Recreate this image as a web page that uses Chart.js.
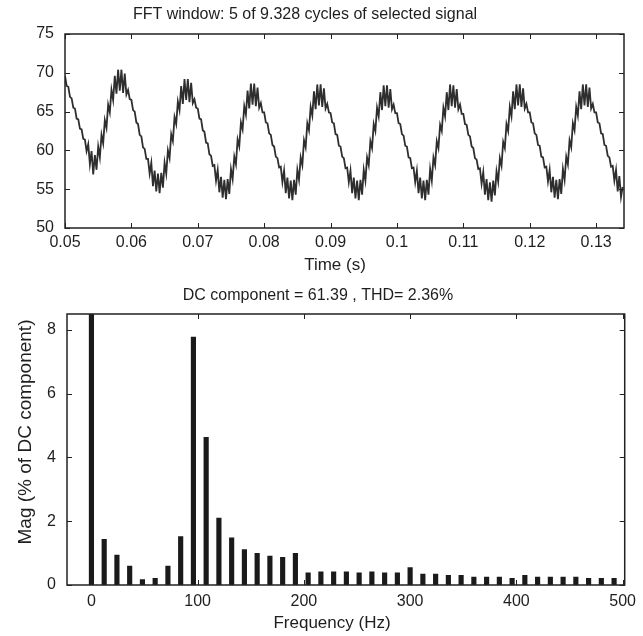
<!DOCTYPE html>
<html>
<head>
<meta charset="utf-8">
<title>FFT Analyse</title>
<script src="https://cdn.jsdelivr.net/npm/chart.js@4.4.1/dist/chart.umd.min.js"></script>
<style>
  html, body { margin: 0; padding: 0; background: #fff; }
  #page { position: relative; width: 643px; height: 636px; }
  canvas { position: absolute; left: 0; }
  #signalCanvas { top: 0; }
  #spectrumCanvas { top: 280px; }
</style>
</head>
<body>
<div id="page">
  <canvas id="signalCanvas" width="643" height="280"></canvas>
  <canvas id="spectrumCanvas" width="643" height="356"></canvas>
</div>
<script>
// --- Daten: Zeitsignal (Abtastschritt 0.25 ms ab t = 0.05 s) ---
const signalStart = 0.05;
const signalStep = 0.00025;
const signalValues = [
  69.6, 68.3, 68.2, 66.9, 66.7, 65.5, 65.4, 64.1, 64.0, 62.8, 62.7, 61.5, 61.4, 59.9, 60.8, 58.2, 59.9, 56.9,
  59.4, 57.5, 60.5, 59.1, 62.0, 60.9, 63.9, 62.9, 65.9, 64.9, 67.8, 66.5, 69.6, 67.3, 70.4, 67.7,
  70.4, 67.4, 69.9, 67.2, 67.8, 66.6, 66.5, 65.2, 65.0, 63.6, 63.4, 62.0, 61.8, 60.4, 60.2, 58.9, 58.9, 57.0, 58.4, 55.4, 57.4, 54.7, 57.0, 54.5,
  57.1, 55.2, 58.4, 57.0, 60.0, 59.0, 62.1, 61.2, 64.3, 63.4, 66.3, 65.2, 68.3, 66.0, 69.2, 66.5,
  69.2, 66.2, 68.7, 66.1, 66.6, 65.5, 65.4, 64.1, 64.0, 62.6, 62.4, 61.0, 60.9, 59.5, 59.3, 58.0, 58.1, 56.1, 57.5, 54.6, 56.6, 53.9, 56.2, 53.7,
  56.3, 54.4, 57.6, 56.3, 59.2, 58.2, 61.4, 60.5, 63.6, 62.7, 65.7, 64.6, 67.7, 65.4, 68.6, 65.9,
  68.6, 65.7, 68.1, 65.5, 66.1, 64.9, 64.9, 63.6, 63.5, 62.2, 62.0, 60.7, 60.5, 59.2, 59.0, 57.8, 57.9, 55.9, 57.4, 54.5, 56.5, 53.8, 56.1, 53.6,
  56.2, 54.3, 57.5, 56.2, 59.1, 58.1, 61.3, 60.4, 63.5, 62.6, 65.6, 64.5, 67.6, 65.3, 68.5, 65.8,
  68.5, 65.6, 68.0, 65.4, 66.0, 64.9, 64.8, 63.6, 63.5, 62.1, 62.0, 60.6, 60.5, 59.2, 59.0, 57.7, 57.8, 55.9, 57.4, 54.5, 56.5, 53.8, 56.1, 53.6,
  56.2, 54.3, 57.5, 56.1, 59.1, 58.1, 61.2, 60.3, 63.4, 62.5, 65.5, 64.4, 67.5, 65.2, 68.4, 65.7,
  68.4, 65.5, 67.9, 65.3, 65.9, 64.8, 64.8, 63.5, 63.4, 62.1, 61.9, 60.6, 60.5, 59.1, 59.0, 57.7, 57.8, 55.9, 57.4, 54.5, 56.5, 53.8, 56.1, 53.6,
  56.2, 54.3, 57.6, 56.1, 59.1, 58.1, 61.2, 60.3, 63.3, 62.5, 65.5, 64.4, 67.5, 65.2, 68.5, 65.7,
  68.4, 65.5, 67.9, 65.3, 65.9, 64.7, 64.7, 63.4, 63.3, 62.0, 61.8, 60.5, 60.3, 59.0, 58.8, 57.6, 57.7, 55.7, 57.2, 54.3, 56.3, 53.6, 55.9, 53.4,
  56.1, 54.2, 57.3, 56.0, 59.0, 58.0, 61.1, 60.3, 63.4, 62.5, 65.6, 64.4, 67.6, 65.3, 68.5, 65.8,
  68.5, 65.6, 68.0, 65.4, 66.0, 64.9, 64.9, 63.6, 63.5, 62.2, 62.0, 60.7, 60.6, 59.2, 59.1, 57.8, 57.9, 56.0, 57.5, 54.6, 56.6, 53.9, 56.2, 53.7,
  56.3, 54.4, 57.6, 56.2, 59.2, 58.2, 61.3, 60.4, 63.5, 62.6, 65.6, 64.5, 67.6, 65.3, 68.5, 65.8,
  68.5, 65.6, 68.1, 65.4, 66.0, 64.9, 64.9, 63.6, 63.5, 62.2, 62.1, 60.7, 60.6, 59.3, 59.1, 57.9, 58.0, 56.1, 57.5, 54.7, 56.7, 54.0, 55.3
];
const timeTicks = [0.05, 0.06, 0.07, 0.08, 0.09, 0.1, 0.11, 0.12, 0.13];
const levelTicks = [50, 55, 60, 65, 70, 75];

// --- Daten: Spektrum (Bins im 12-Hz-Raster, DC = 100 %) ---
const freqBins = [0, 12, 24, 36, 48, 60, 72, 84, 96, 108, 120, 132, 144, 156, 168, 180, 192,
  204, 216, 228, 240, 252, 264, 276, 288, 300, 312, 324, 336, 348, 360, 372, 384, 396,
  408, 420, 432, 444, 456, 468, 480, 492];
const magValues = [100, 1.43, 0.94, 0.59, 0.17, 0.21, 0.59, 1.52, 7.78, 4.63, 2.10, 1.48, 1.11, 0.99, 0.91, 0.87, 0.99,
  0.38, 0.41, 0.41, 0.41, 0.38, 0.41, 0.38, 0.38, 0.55, 0.34, 0.34, 0.30, 0.30, 0.25, 0.25, 0.25, 0.21,
  0.30, 0.25, 0.25, 0.25, 0.25, 0.21, 0.21, 0.21];
const freqTicks = [0, 100, 200, 300, 400, 500];
const magTicks = [0, 2, 4, 6, 8];

// --- Gemeinsame Einstellungen ---
const fontFamily = "'Liberation Sans', Arial, Helvetica, sans-serif";
const textColor = '#1e1e1e';
const tickFont = { family: fontFamily, size: 16 };

// Rahmen + nach innen zeigende Ticks auf allen vier Seiten (MATLAB-Stil)
const axisFrame = {
  id: 'axisFrame',
  afterDatasetsDraw(chart) {
    const { ctx, chartArea: a, scales: { x, y } } = chart;
    ctx.save();
    ctx.strokeStyle = '#222';
    ctx.lineWidth = 1.5;
    ctx.strokeRect(a.left, a.top, a.right - a.left, a.bottom - a.top);
    ctx.lineWidth = 1;
    ctx.beginPath();
    x.ticks.forEach(t => {
      const px = Math.round(x.getPixelForValue(t.value)) + 0.5;
      ctx.moveTo(px, a.bottom); ctx.lineTo(px, a.bottom - 5);
      ctx.moveTo(px, a.top); ctx.lineTo(px, a.top + 5);
    });
    y.ticks.forEach(t => {
      const py = Math.round(y.getPixelForValue(t.value)) + 0.5;
      ctx.moveTo(a.left, py); ctx.lineTo(a.left + 5, py);
      ctx.moveTo(a.right, py); ctx.lineTo(a.right - 5, py);
    });
    ctx.stroke();
    ctx.restore();
  }
};

// Titel und Achsenbeschriftungen an festen Positionen
const captions = {
  id: 'captions',
  afterDraw(chart, args, opts) {
    const ctx = chart.ctx;
    (opts.items || []).forEach(item => {
      ctx.save();
      ctx.font = item.size + 'px ' + fontFamily;
      ctx.fillStyle = textColor;
      ctx.textAlign = 'center';
      ctx.textBaseline = 'middle';
      ctx.translate(item.x, item.y);
      if (item.rotate) ctx.rotate(item.rotate);
      ctx.fillText(item.text, 0, 0);
      ctx.restore();
    });
  }
};

function fixedTicks(values) {
  return scale => { scale.ticks = values.map(v => ({ value: v })); };
}

// --- Oberes Diagramm: Zeitsignal ---
const signalPoints = signalValues.map((v, i) => ({ x: signalStart + i * signalStep, y: v }));

new Chart(document.getElementById('signalCanvas'), {
  type: 'line',
  data: {
    datasets: [{
      data: signalPoints,
      borderColor: '#2e2e2e',
      borderWidth: 1.8,
      pointRadius: 0,
      tension: 0,
      fill: false
    }]
  },
  options: {
    responsive: false,
    animation: false,
    layout: { padding: { top: 34, right: 19, left: 0, bottom: 0 } },
    plugins: {
      legend: { display: false },
      tooltip: { enabled: false },
      captions: {
        items: [
          { text: 'FFT window: 5 of 9.328 cycles of selected signal', x: 305, y: 15, size: 16 },
          { text: 'Time (s)', x: 335, y: 265, size: 17 }
        ]
      }
    },
    scales: {
      x: {
        type: 'linear',
        min: 0.05,
        max: 0.1342,
        grid: { display: false, drawTicks: false },
        border: { display: false },
        afterBuildTicks: fixedTicks(timeTicks),
        afterFit: s => { s.height = 52; },
        ticks: {
          font: tickFont, color: textColor, padding: 5, maxRotation: 0,
          callback: v => String(+v.toFixed(2))
        }
      },
      y: {
        min: 50,
        max: 75,
        grid: { display: false, drawTicks: false },
        border: { display: false },
        afterBuildTicks: fixedTicks(levelTicks),
        afterFit: s => { s.width = 65; },
        ticks: { font: tickFont, color: textColor, padding: 11 }
      }
    }
  },
  plugins: [axisFrame, captions]
});

// --- Unteres Diagramm: Spektrum ---
const spectrumPoints = freqBins.map((f, i) => ({ x: f, y: magValues[i] }));

new Chart(document.getElementById('spectrumCanvas'), {
  type: 'bar',
  data: {
    datasets: [{
      data: spectrumPoints,
      backgroundColor: '#1a1a1a',
      borderWidth: 0,
      barThickness: 4.5
    }]
  },
  options: {
    responsive: false,
    animation: false,
    layout: { padding: { top: 34, right: 17, left: 0, bottom: 0 } },
    plugins: {
      legend: { display: false },
      tooltip: { enabled: false },
      captions: {
        items: [
          { text: 'DC component = 61.39 , THD= 2.36%', x: 318, y: 16, size: 16 },
          { text: 'Frequency (Hz)', x: 332, y: 343, size: 17 },
          { text: 'Mag (% of DC component)', x: 26, y: 152, size: 19, rotate: -Math.PI / 2 }
        ]
      }
    },
    scales: {
      x: {
        type: 'linear',
        min: -23,
        max: 502,
        offset: false,
        grid: { display: false, drawTicks: false },
        border: { display: false },
        afterBuildTicks: fixedTicks(freqTicks),
        afterFit: s => { s.height = 51; },
        ticks: { font: tickFont, color: textColor, padding: 7, maxRotation: 0 }
      },
      y: {
        min: 0,
        max: 8.5,
        grid: { display: false, drawTicks: false },
        border: { display: false },
        afterBuildTicks: fixedTicks(magTicks),
        afterFit: s => { s.width = 67; },
        ticks: { font: tickFont, color: textColor, padding: 11 }
      }
    }
  },
  plugins: [axisFrame, captions]
});
</script>
</body>
</html>
